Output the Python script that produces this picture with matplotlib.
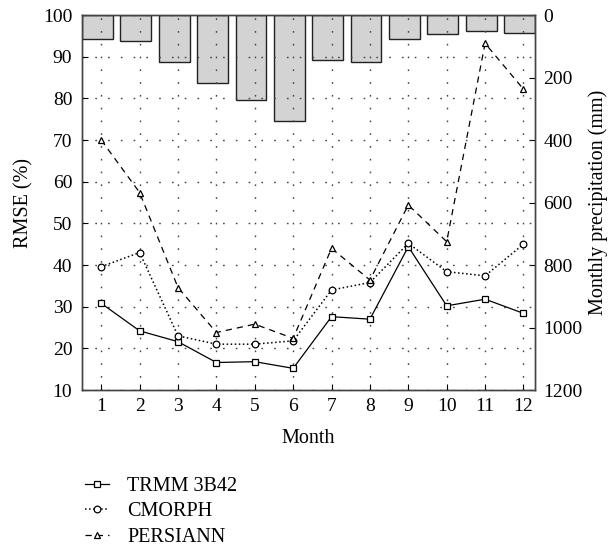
import matplotlib
matplotlib.use("Agg")
import matplotlib.pyplot as plt
import numpy as np

months = [1, 2, 3, 4, 5, 6, 7, 8, 9, 10, 11, 12]
precip = [78, 84, 151, 218, 272, 339, 143, 149, 77, 60, 52, 57]
trmm = [30.8, 24.2, 21.6, 16.6, 16.8, 15.2, 27.6, 27.0, 44.4, 30.2, 31.8, 28.4]
cmorph = [39.6, 43.0, 23.0, 21.0, 21.0, 21.8, 34.0, 35.8, 45.2, 38.4, 37.4, 45.0]
persiann = [70.0, 57.4, 34.6, 23.8, 25.8, 22.4, 44.0, 36.4, 54.4, 45.6, 93.2, 82.2]

plt.rcParams['font.family'] = ['Liberation Serif', 'DejaVu Serif']

fig = plt.figure(figsize=(6.14, 5.5), dpi=100)
ax = fig.add_axes([0.1336, 0.2909, 0.8713 - 0.1336, 0.9727 - 0.2909])
ax2 = ax.twinx()

x = np.array(months)
ax2.bar(x - 0.1, precip, width=0.8, color='#d3d3d3', edgecolor='#222222', linewidth=1.0, zorder=2)
ax2.set_ylim(1200, 0)
ax2.set_yticks([0, 200, 400, 600, 800, 1000, 1200])
ax2.set_ylabel('Monthly precipitation (mm)', fontsize=14.5, labelpad=4)

ax.set_zorder(ax2.get_zorder() + 1)
ax.patch.set_visible(False)

ms = 4.8
ax.plot(x, trmm, '-', color='black', lw=0.9, marker='s', ms=ms, mfc='white', mec='black', mew=0.9, label='TRMM 3B42')
ax.plot(x, cmorph, ':', color='black', lw=1.1, marker='o', ms=ms, mfc='white', mec='black', mew=0.9, label='CMORPH')
ax.plot(x, persiann, '--', color='black', lw=0.9, dashes=(5, 4), marker='^', ms=ms, mfc='white', mec='black', mew=0.9, label='PERSIANN')

ax.set_xlim(0.5, 12.3)
ax.set_ylim(10, 100)
ax.set_xticks(months)
ax.set_yticks(range(10, 101, 10))
ax.grid(True, linestyle=(0, (1.2, 8)), color='#444444', linewidth=1.0)
ax.set_xlabel('Month', fontsize=14.5, labelpad=10)
ax.set_ylabel('RMSE (%)', fontsize=14.5, labelpad=7)

ax.tick_params(axis='y', direction='in', labelsize=14, length=4, pad=7)
ax.tick_params(axis='x', direction='in', labelsize=14, length=4, pad=6)
ax2.tick_params(direction='in', labelsize=14, length=4, pad=6)
for a in (ax, ax2):
    for s in a.spines.values():
        s.set_color('#444444')
        s.set_linewidth(1.0)

handles, labels = ax.get_legend_handles_labels()
fig.legend(handles, labels, loc='upper left', bbox_to_anchor=(0.125, 0.147),
           frameon=False, fontsize=14.5, handlelength=1.2, handletextpad=0.9,
           labelspacing=0.3, borderaxespad=0)

fig.savefig('out.png', dpi=100)
